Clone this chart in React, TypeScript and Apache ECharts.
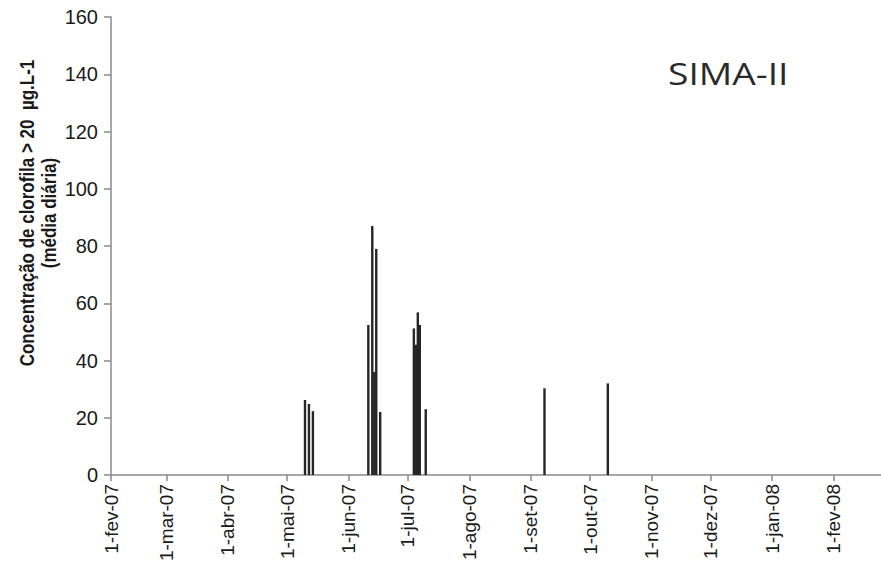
import React, { useEffect, useRef } from "react";
import * as echarts from "echarts";

// Daily axis from 1-fev-07 onward
const startDate = "2007-02-01";
const dayCount = 390;
const monthNames = ["jan", "fev", "mar", "abr", "mai", "jun", "jul", "ago", "set", "out", "nov", "dez"];

// Days with daily mean chlorophyll > 20 µg/L
const eventDates = [
  "2007-05-10", "2007-05-12", "2007-05-14",
  "2007-06-11", "2007-06-13", "2007-06-14", "2007-06-15", "2007-06-17",
  "2007-07-04", "2007-07-05", "2007-07-06", "2007-07-07", "2007-07-10",
  "2007-09-08", "2007-10-10",
];
const eventValues = [
  26.2, 24.8, 22.3,
  52.4, 87, 36, 79, 22,
  51.2, 45.5, 56.8, 52.4, 23,
  30.3, 32,
];

const yTitle = "Concentração de clorofila > 20  µg.L-1\n(média diária)";
const stationLabel = "SIMA-II";

function buildCategories(): string[] {
  const [y, m, d] = startDate.split("-").map(Number);
  const t0 = Date.UTC(y, m - 1, d);
  const out: string[] = [];
  for (let i = 0; i < dayCount; i++) {
    const dt = new Date(t0 + i * 86400000);
    const s =
      dt.getUTCFullYear() +
      "-" +
      String(dt.getUTCMonth() + 1).padStart(2, "0") +
      "-" +
      String(dt.getUTCDate()).padStart(2, "0");
    out.push(s);
  }
  return out;
}

function fmtLabel(v: string): string {
  const [y, m, d] = v.split("-").map(Number);
  return d + "-" + monthNames[m - 1] + "-" + String(y).slice(2);
}

export default function App() {
  const ref = useRef<HTMLDivElement>(null);
  useEffect(() => {
    if (!ref.current) return;
    const chart = echarts.init(ref.current, undefined, { renderer: "svg" });
    const categories = buildCategories();
    const valueMap: Record<string, number> = {};
    eventDates.forEach((d, i) => (valueMap[d] = eventValues[i]));
    const seriesData = categories.map((c) => (c in valueMap ? valueMap[c] : null));
    const isMonthStart = (_i: number, v: string) => v.endsWith("-01");

    chart.setOption({
      animation: false,
      backgroundColor: "#ffffff",
      grid: { left: 111, right: 0, top: 17, bottom: 92, containLabel: false },
      xAxis: {
        type: "category",
        data: categories,
        boundaryGap: false,
        axisLine: { show: true, lineStyle: { color: "#8a8a8a", width: 1.5 } },
        axisTick: { show: true, interval: isMonthStart, length: 6, lineStyle: { color: "#8a8a8a", width: 1.5 } },
        axisLabel: {
          interval: isMonthStart,
          rotate: 90,
          margin: 9,
          formatter: (v: string) => fmtLabel(v),
          fontFamily: "Liberation Sans",
          fontSize: 19,
          color: "#1a1a1a",
        },
        splitLine: { show: false },
      },
      yAxis: {
        type: "value",
        min: 0,
        max: 160,
        interval: 20,
        axisLine: { show: true, lineStyle: { color: "#8a8a8a", width: 1.5 } },
        axisTick: { show: true, length: 7, lineStyle: { color: "#8a8a8a", width: 1.5 } },
        axisLabel: { margin: 13, fontFamily: "Liberation Sans", fontSize: 20, color: "#1a1a1a" },
        splitLine: { show: false },
      },
      series: [
        {
          type: "bar",
          data: seriesData,
          barWidth: 2.4,
          itemStyle: { color: "#262626" },
        },
      ],
      graphic: [
        {
          type: "text",
          x: 38,
          y: 213,
          rotation: Math.PI / 2,
          scaleY: 1.15,
          style: {
            text: yTitle,
            font: 'bold 17px "Liberation Sans"',
            textAlign: "center",
            textVerticalAlign: "middle",
            lineHeight: 18.5,
            fill: "#1a1a1a",
          },
        },
        {
          type: "text",
          x: 668,
          y: 73,
          scaleX: 1.2,
          style: {
            text: stationLabel,
            font: '31px "Open Sans"',
            textAlign: "left",
            textVerticalAlign: "middle",
            fill: "#2a2a2a",
          },
        },
      ],
    });
    return () => chart.dispose();
  }, []);
  return <div ref={ref} style={{ width: 881, height: 567, position: "absolute", left: 0, top: 0 }} />;
}
